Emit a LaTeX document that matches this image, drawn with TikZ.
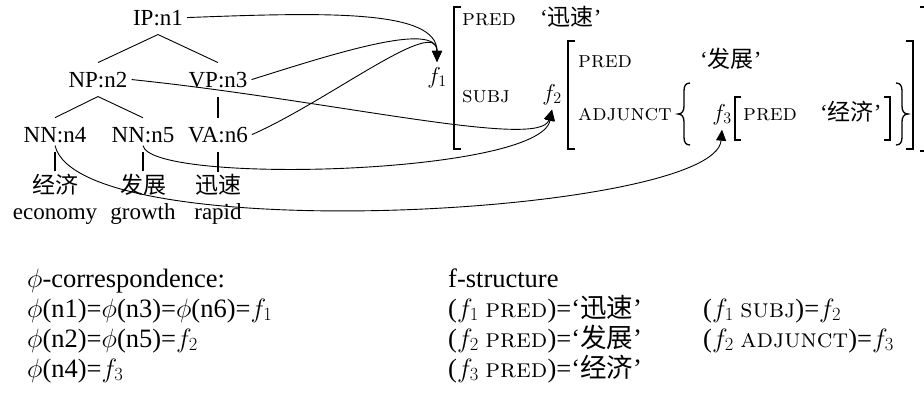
\RequirePackage{fix-cm}
\documentclass[tikz,border=0pt]{standalone}
\usepackage{fontspec}
\setmainfont{Liberation Serif}
\newfontfamily\cjk{Noto Sans CJK SC}
\usetikzlibrary{arrows.meta}
\newcommand\fsz{\fontsize{23}{28}\selectfont}
\newcommand\bsz{\fontsize{26.5}{30}\selectfont}
\newcommand\attr[1]{{\fontfamily{lmr}\selectfont\scshape #1}}
\newcommand\zh[1]{{\cjk #1}}

\begin{document}
\begin{tikzpicture}[x=1pt,y=-1pt,
  every node/.style={font=\fsz, inner sep=0pt},
  tree/.style={anchor=base, inner xsep=4pt, inner ysep=9pt},
  word/.style={anchor=base, inner sep=2pt},
  fl/.style={anchor=base, inner sep=5pt},
  lbl/.style={anchor=base west, inner sep=0pt},
  eqn/.style={anchor=base west, inner sep=0pt, font=\bsz},
  edge/.style={line width=0.9pt},
  stem/.style={line width=1.8pt},
  link/.style={line width=0.9pt, -{Triangle[length=11pt,width=10pt]}},
  brk/.style={line width=1.2pt},
  brc/.style={line width=1.3pt}]
\useasboundingbox (0,0) rectangle (924,392);
\clip (0,0) rectangle (924,392);
\fill[white] (0,0) rectangle (924,392);

% c-structure tree
\node[tree] (n1) at (158,25) {IP:n1};
\node[tree] (n2) at (98,87) {NP:n2};
\node[tree] (n3) at (218,87) {VP:n3};
\node[tree] (n4) at (55,142) {NN:n4};
\node[tree] (n5) at (143,142) {NN:n5};
\node[tree] (n6) at (218,142) {VA:n6};
\node[word] (w4) at (55,193) {\zh{经济}};
\node[word] (w5) at (143,193) {\zh{发展}};
\node[word] (w6) at (218,193) {\zh{迅速}};
\node[word] (g4) at (55,219) {economy};
\node[word] (g5) at (143,219) {growth};
\node[word] (g6) at (218,219) {rapid};

\draw[edge] (n1.south) -- (n2.north);
\draw[edge] (n1.south) -- (n3.north);
\draw[edge] (n2.south) -- (n4.north);
\draw[edge] (n2.south) -- (n5.north);
\draw[stem] (n3.south) -- (n6.north);
\draw[stem] (n4.south) -- (w4.north);
\draw[stem] (n5.south) -- (w5.north);
\draw[stem] (n6.south) -- (w6.north);

% f-structure
\node[fl] (f1) at (437,83) {$f_1$};
\node[fl] (f2) at (552,100) {$f_2$};
\node[fl] (f3) at (722,120) {$f_3$};
\node[lbl] (p1) at (462,25) {\attr{pred}};
\node[lbl] (v1) at (540,25) {`\zh{迅速}'};
\node[lbl] (sj) at (462,102) {\attr{subj}};
\node[lbl] (p2) at (578,67) {\attr{pred}};
\node[lbl] (v2) at (700,67) {`\zh{发展}'};
\node[lbl] (aj) at (578,120) {\attr{adjunct}};
\node[lbl] (p3) at (743,120) {\attr{pred}};
\node[lbl] (v3) at (820,120) {`\zh{经济}'};

% set braces round the adjunct
\draw[brc] (690,83) .. controls (685.5,83) and (684,86) .. (684,91)
  -- (684,106) .. controls (684,111) and (682,114) .. (678,114)
  .. controls (682,114) and (684,117) .. (684,122)
  -- (684,137) .. controls (684,142) and (685.5,145) .. (690,145);
\draw[brc] (896,83) .. controls (900.5,83) and (902,86) .. (902,91)
  -- (902,106) .. controls (902,111) and (904,114) .. (908,114)
  .. controls (904,114) and (902,117) .. (902,122)
  -- (902,137) .. controls (902,142) and (900.5,145) .. (896,145);

% brackets
\draw[brk] (461,7) -- (454,7) -- (454,149) -- (461,149);
\draw[brk] (920,7) -- (927,7) -- (927,151) -- (920,151);
\draw[brk] (575,41) -- (568,41) -- (568,149) -- (575,149);
\draw[brk] (906,41) -- (913,41) -- (913,149) -- (906,149);
\draw[brk] (741,97) -- (735,97) -- (735,140) -- (741,140);
\draw[brk] (884,97) -- (890,97) -- (890,140) -- (884,140);

% phi mapping
\draw[link] (n1.east) .. controls (330,12) and (437,10) .. (f1.north);
\draw[link] (n3.east) .. controls (330,55) and (437,20) .. (f1.north);
\draw[link] (n6.east) .. controls (330,100) and (437,15) .. (f1.north);
\draw[link] (n2.east) .. controls (330,100) and (540,150) .. (f2.south);
\draw[link] ([yshift=6pt]n5.south) .. controls (150,185) and (540,175) .. (f2.south);
\draw[link] ([yshift=6pt]n4.south) .. controls (80,250) and (715,215) .. (f3.south);

% equations
\node[eqn] (c0) at (27,287) {$\phi$-correspondence:};
\node[eqn] (c1) at (27,317) {$\phi$(n1)=$\phi$(n3)=$\phi$(n6)=$f_1$};
\node[eqn] (c2) at (27,347) {$\phi$(n2)=$\phi$(n5)=$f_2$};
\node[eqn] (c3) at (27,377) {$\phi$(n4)=$f_3$};
\node[eqn] (d0) at (448,287) {f-structure};
\node[eqn] (d1) at (448,317) {($f_1$ \attr{pred})=`\zh{迅速}'};
\node[eqn] (d2) at (448,347) {($f_2$ \attr{pred})=`\zh{发展}'};
\node[eqn] (d3) at (448,377) {($f_3$ \attr{pred})=`\zh{经济}'};
\node[eqn] (e1) at (703,317) {($f_1$ \attr{subj})=$f_2$};
\node[eqn] (e2) at (703,347) {($f_2$ \attr{adjunct})=$f_3$};
\end{tikzpicture}
\end{document}
